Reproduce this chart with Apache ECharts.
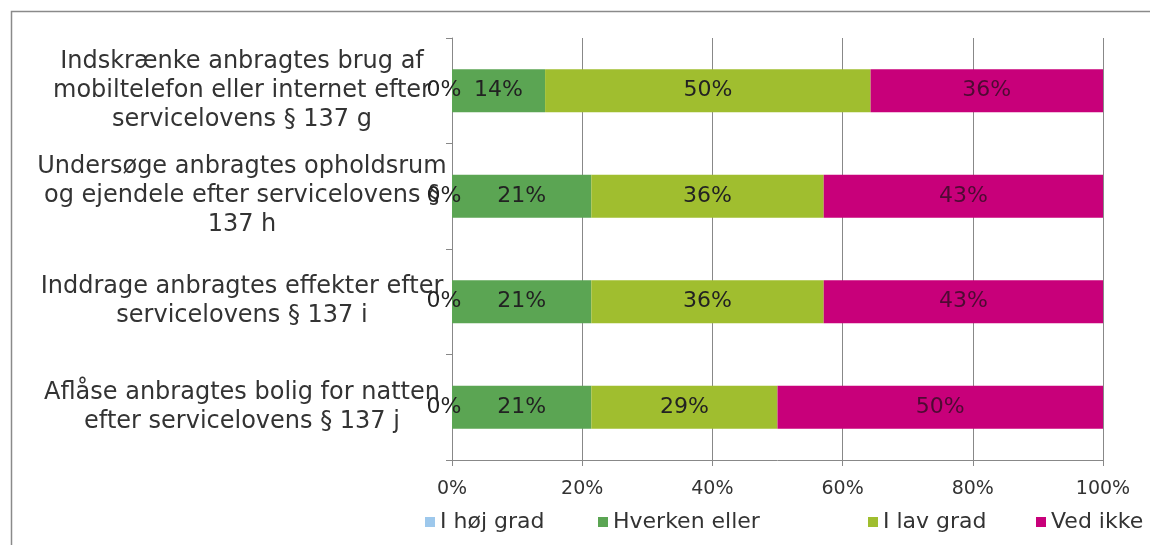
<!DOCTYPE html>
<html>
<head>
<meta charset="utf-8">
<script src="https://cdn.jsdelivr.net/npm/echarts@6/dist/echarts.min.js"></script>
<style>html,body{margin:0;padding:0;background:#fff;}#c{width:1150px;height:545px;}</style>
</head>
<body>
<div id="c"></div>
<script>
const categories = [
  "Indskrænke anbragtes brug af\nmobiltelefon eller internet efter\nservicelovens § 137 g",
  "Undersøge anbragtes opholdsrum\nog ejendele efter servicelovens §\n137 h",
  "Inddrage anbragtes effekter efter\nservicelovens § 137 i",
  "Aflåse anbragtes bolig for natten\nefter servicelovens § 137 j"
];
const seriesNames = ["I høj grad", "Hverken eller", "I lav grad", "Ved ikke"];
const hoejGrad = [0, 0, 0, 0];
const hverkenEller = [14.3, 21.4, 21.4, 21.4];
const lavGrad = [50, 35.7, 35.7, 28.6];
const vedIkke = [35.7, 42.9, 42.9, 50];
const xTicks = [0, 20, 40, 60, 80, 100];

const colors = ["#9dc8ec", "#5ba553", "#a0be2f", "#c8007a"];
const font = "DejaVu Sans";
const values = [hoejGrad, hverkenEller, lavGrad, vedIkke];
const legendLeft = [425, 598, 868, 1036];

const chart = echarts.init(document.getElementById('c'), null, {renderer: 'canvas'});
chart.setOption({
  animation: false,
  backgroundColor: '#fff',
  graphic: [{
    type: 'rect', left: 9, top: 9, silent: true,
    shape: {x: 0, y: 0, width: 1400, height: 800},
    style: {fill: 'none', stroke: '#8a8a8a', lineWidth: 1.5}
  }],
  grid: {left: 452, right: 47, top: 38, bottom: 85, containLabel: false},
  legend: seriesNames.map((n, i) => ({
    data: [n], left: legendLeft[i], top: 511, icon: 'rect', padding: 0,
    itemWidth: 10, itemHeight: 10,
    textStyle: {fontFamily: font, fontSize: 22, color: '#333'}
  })),
  xAxis: {
    type: 'value', min: xTicks[0], max: xTicks[xTicks.length - 1], interval: 20,
    axisLine: {show: true, lineStyle: {color: '#888', width: 1}},
    axisTick: {show: true, length: 6, lineStyle: {color: '#888'}},
    splitLine: {show: true, lineStyle: {color: '#888', width: 1}},
    axisLabel: {formatter: '{value}%', fontFamily: font, fontSize: 19, color: '#333', margin: 20}
  },
  yAxis: {
    type: 'category', data: categories, inverse: true,
    axisLine: {show: true, lineStyle: {color: '#888', width: 1}},
    axisTick: {show: true, length: 6, lineStyle: {color: '#888'}},
    axisLabel: {fontFamily: font, fontSize: 24, color: '#333', align: 'center', margin: 210, lineHeight: 29}
  },
  series: values.map((v, i) => ({
    name: seriesNames[i], type: 'bar', stack: 'all', data: v,
    barWidth: 43,
    itemStyle: {color: colors[i]},
    label: {
      show: true, position: 'inside', offset: i === 0 ? [-8, 0] : [0, 0],
      formatter: p => Math.round(p.value) + '%',
      fontFamily: font, fontSize: 22,
      color: i === 3 ? '#4e0a33' : '#222'
    }
  }))
});
</script>
</body>
</html>
